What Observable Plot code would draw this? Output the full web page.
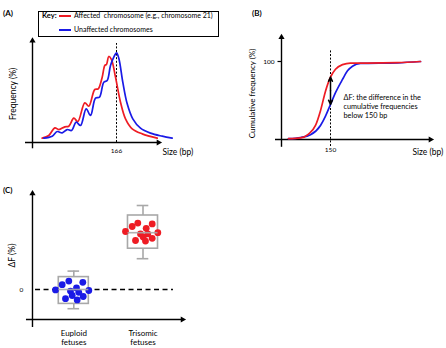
<!DOCTYPE html>
<html><head><meta charset="utf-8">
<script src="https://cdn.jsdelivr.net/npm/d3@7"></script>
<script src="https://cdn.jsdelivr.net/npm/@observablehq/plot@0.6"></script>
<style>
html,body{margin:0;padding:0;background:#fff;}
#fig{position:relative;width:446px;height:348px;overflow:hidden;font-family:Lato,"Open Sans",sans-serif;color:#000;}
#fig svg{position:absolute;left:0;top:0;pointer-events:none;}
.plbl{position:absolute;font-weight:bold;font-size:8px;line-height:10px;}
#key{position:absolute;left:38px;top:10.5px;width:179px;height:24px;border:1.3px solid #000;}
.kt{position:absolute;font-size:7px;line-height:9px;white-space:nowrap;}
.kl{position:absolute;height:2px;width:12px;}
</style></head><body>
<div id="fig">
  <div class="plbl" style="left:3px;top:8px">(A)</div>
  <div class="plbl" style="left:252px;top:8px">(B)</div>
  <div class="plbl" style="left:3px;top:185px">(C)</div>
  <div id="key"></div>
  <div class="kt" style="left:42px;top:10.5px;font-weight:bold;font-size:7.5px">Key:</div>
  <div class="kl" id="kred" style="left:59px;top:14.5px"></div>
  <div class="kt" style="left:74px;top:11px">Affected&nbsp; chromosome (e.g., chromosome 21)</div>
  <div class="kl" id="kblue" style="left:59px;top:28.5px"></div>
  <div class="kt" style="left:74px;top:25px">Unaffected chromosomes</div>
</div>
<script>
// ---------- data ----------
const RED = "#ee1c24";
const BLUE = "#1a1ae6";
const seriesNames = ["Affected  chromosome (e.g., chromosome 21)", "Unaffected chromosomes"];

// Panel A: fragment size distribution (schematic)
const aRedSize = [91.7,98.3,104.3,108.3,114.3,118.3,123.3,127.3,134.3,138.3,144.3,147.7,151.7,154.3,156,158.3,161,165,170,175,181.7,191.7,206.7];
const aRedFreq = [4.8,7.8,16.3,14.4,17.4,18.1,27,23.3,44.1,40.3,58.9,59.6,72.6,85.6,86.7,95.6,92.2,72.6,44.8,26.3,15.2,9.6,4.8];
const aBlueSize = [93.3,101.7,106.7,111.7,116.7,121,125.7,130,135.7,140,145,149,153.3,156.7,160,163.3,166,168.3,172.3,176.7,182.3,190,200,211.7,221.7];
const aBlueFreq = [4.8,7,12.2,10.7,14.4,13.3,22.6,18.9,37.4,30,49.3,50.4,67,68.9,85.6,94.8,99.6,93.7,67,43,26.3,15.9,10.4,7,4.8];
const aMarker = 166;

// Panel B: cumulative frequency (schematic)
const bRedSize = [108,120,128,135,140,145,150,155,162,170,187,217,240];
const bRedCum  = [1,2,7,18,37,62,80,90,96,98,98,98.5,100];
const bBlueSize = [108,120,130,140,145,150,155,162,167,172,180,217,240];
const bBlueCum  = [1,2.5,6,18,30,45,60,77,88,94,97.5,98.3,100];
const bMarker = 150;
const bTick = 100;
const bNote = "ΔF: the difference in the\ncumulative frequencies\nbelow 150 bp";

// Panel C: ΔF per fetus
const groups = ["Euploid\nfetuses", "Trisomic\nfetuses"];
const boxLow    = [-4.8, 7.7];
const boxQ1     = [-3.6, 10.2];
const boxMedian = [0, 14.2];
const boxQ3     = [3.1, 18.5];
const boxHigh   = [4.6, 21];
const euploidJitter = [-0.264,-0.168,-0.072,0.130,0.039,-0.048,0.217,-0.12,-0.023,0.049,0.136,0.072];
const euploidDF     = [-0.1,1.2,2.1,1.8,0.4,-0.4,-0.25,-2.3,-1.5,-2.6,-1.75,-0.7];
const trisomicJitter = [-0.253,-0.156,-0.075,0.046,0.133,-0.036,0.069,0.214,-0.108,0.036,0.133,0.003];
const trisomicDF     = [14.5,15.75,16.6,15.3,16.4,13.9,13.9,14.2,12.25,12.1,12.8,13.1];

// ---------- build ----------
document.getElementById("kred").style.background = RED;
document.getElementById("kblue").style.background = BLUE;

const pts = (xs, ys) => xs.map((x, i) => ({x, y: ys[i]}));
const base = {width: 446, height: 348, margin: 0,
  style: {background: "transparent", fontFamily: "Lato, 'Open Sans', sans-serif", overflow: "visible"}};
const fig = document.getElementById("fig");

function axes(x0, x1, y0, y1, ox, oy) {
  return [
    Plot.ruleX([ox], {y1: y0, y2: y1, stroke: "#000", strokeWidth: 1.4}),
    Plot.ruleY([oy], {x1: x0, x2: x1, stroke: "#000", strokeWidth: 1.4}),
    Plot.dot([{x: ox, y: y1}], {x: "x", y: "y", symbol: "triangle", fill: "#000", stroke: "none", r: 2.3}),
    Plot.dot([{x: x1, y: oy}], {x: "x", y: "y", symbol: "triangle", fill: "#000", stroke: "none", r: 2.3, rotate: 90})
  ];
}

// Panel A
const aX = [75, 208], aY = [-7, 113];
fig.appendChild(Plot.plot({...base,
  x: {domain: aX, range: [25, 158], axis: null},
  y: {domain: aY, range: [142 + 7 * 0.9, 142 - 113 * 0.9], axis: null},
  marks: [
    ...axes(aX[0], aX[1], aY[0], aY[1], 82, 0),
    Plot.ruleX([aMarker], {y1: 0, y2: 110, stroke: "#000", strokeWidth: 1, strokeDasharray: "2,1.6"}),
    Plot.line(pts(aRedSize, aRedFreq), {x: "x", y: "y", stroke: RED, strokeWidth: 1.7, curve: "catmull-rom"}),
    Plot.line(pts(aBlueSize, aBlueFreq), {x: "x", y: "y", stroke: BLUE, strokeWidth: 1.7, curve: "catmull-rom"}),
    Plot.text([aMarker], {x: d => d, y: 0, dy: 8, text: d => String(d), fontSize: 6.5}),
    Plot.text(["Size (bp)"], {x: aX[1], y: 0, dx: 4, dy: 10, text: d => d, textAnchor: "start", fontSize: 8.5}),
    Plot.text(["Frequency (%)"], {x: 82, y: 54, dx: -19, text: d => d, rotate: -90, fontSize: 8.5})
  ]
}));

// Panel B
const bX = [95, 250], bY = [-10, 131];
fig.appendChild(Plot.plot({...base,
  x: {domain: bX, range: [275, 430], axis: null},
  y: {domain: bY, range: [139 + 10 * 0.78, 139 - 131 * 0.78], axis: null},
  marks: [
    ...axes(bX[0], bX[1], bY[0], bY[1], 101, 0),
    Plot.ruleY([bTick], {x1: 97.5, x2: 101, stroke: "#000", strokeWidth: 1.2}),
    Plot.text([bTick], {x: 101, y: d => d, dx: -7, text: d => String(d), textAnchor: "end", fontSize: 6.5}),
    Plot.ruleX([bMarker], {y1: -9, y2: 114, stroke: "#000", strokeWidth: 1, strokeDasharray: "2,1.6"}),
    Plot.line(pts(bBlueSize, bBlueCum), {x: "x", y: "y", stroke: BLUE, strokeWidth: 1.7, curve: "monotone-x"}),
    Plot.line(pts(bRedSize, bRedCum), {x: "x", y: "y", stroke: RED, strokeWidth: 1.7, curve: "monotone-x"}),
    Plot.arrow([{y1: 62.5, y2: 80}, {y1: 62.5, y2: 45}], {x1: bMarker, x2: bMarker, y1: "y1", y2: "y2",
      stroke: "#000", strokeWidth: 1.5, headLength: 6, headAngle: 50}),
    Plot.text([bNote], {x: 163, y: 59, text: d => d, textAnchor: "start", lineAnchor: "top", lineHeight: 1.25, fontSize: 7.3}),
    Plot.text([bMarker], {x: d => d, y: 0, dy: 10, text: d => String(d), fontSize: 6.5}),
    Plot.text(["Size (bp)"], {x: bX[1], y: 0, dx: -18, dy: 13, text: d => d, textAnchor: "start", fontSize: 8.5}),
    Plot.text(["Cumulative frequency (%)"], {x: 101, y: 59, dx: -29, text: d => d, rotate: -90, fontSize: 8})
  ]
}));

// Panel C
const cX = [0.316, 2.571], cY = [-7.5, 24];
const half = 0.217, cap = 0.084;
const boxes = groups.map((g, i) => ({g, c: i + 1, lo: boxLow[i], q1: boxQ1[i], md: boxMedian[i], q3: boxQ3[i], hi: boxHigh[i]}));
const euploidPts = euploidDF.map((v, i) => ({x: 1 + euploidJitter[i], y: v}));
const trisomicPts = trisomicDF.map((v, i) => ({x: 2 + trisomicJitter[i], y: v}));
const GREY = "#a8a8a8";
fig.appendChild(Plot.plot({...base,
  x: {domain: [1, 2], range: [73.3, 142.5], axis: null},
  y: {domain: [0, 20], range: [289, 209], axis: null},
  marks: [
    ...axes(cX[0], cX[1], -9.5, cY[1], 0.403, -7.5),
    Plot.ruleY([0], {x1: 0.447, x2: 2.44, stroke: "#000", strokeWidth: 1.3, strokeDasharray: "5,3.5"}),
    Plot.text(["0"], {x: 0.403, y: 0, dx: -11, text: d => d, fontSize: 6.5}),
    Plot.text(["ΔF (%)"], {x: 0.403, y: 8.5, dx: -20, text: d => d, rotate: -90, fontSize: 8.5}),
    Plot.ruleX(boxes, {x: "c", y1: "q3", y2: "hi", stroke: GREY, strokeWidth: 1.6}),
    Plot.ruleX(boxes, {x: "c", y1: "lo", y2: "q1", stroke: GREY, strokeWidth: 1.6}),
    Plot.ruleY(boxes, {y: "hi", x1: d => d.c - cap, x2: d => d.c + cap, stroke: GREY, strokeWidth: 1.6}),
    Plot.ruleY(boxes, {y: "lo", x1: d => d.c - cap, x2: d => d.c + cap, stroke: GREY, strokeWidth: 1.6}),
    Plot.rect(boxes, {x1: d => d.c - half, x2: d => d.c + half, y1: "q1", y2: "q3", fill: "white", stroke: GREY, strokeWidth: 1.6}),
    Plot.dot(euploidPts, {x: "x", y: "y", r: 3.4, fill: BLUE, stroke: "none"}),
    Plot.dot(trisomicPts, {x: "x", y: "y", r: 3.4, fill: RED, stroke: "none"}),
    Plot.ruleY(boxes, {y: "md", x1: d => d.c - half, x2: d => d.c + half, stroke: GREY, strokeWidth: 1.6, strokeOpacity: 0.9}),
    Plot.text(boxes, {x: "c", y: -7.5, dy: 18, text: "g", lineHeight: 1.2, fontSize: 8})
  ]
}));
</script>
</body></html>
